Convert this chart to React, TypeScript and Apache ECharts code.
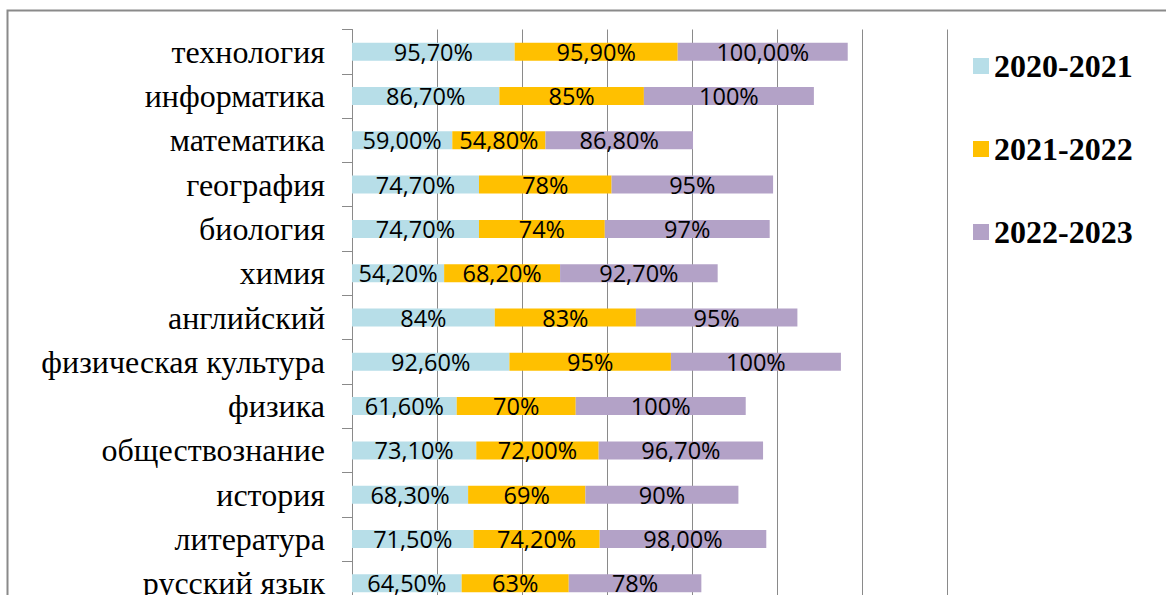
import React, { useEffect, useRef } from "react";
import * as echarts from "echarts";

const categories = [
  "технология",
  "информатика",
  "математика",
  "география",
  "биология",
  "химия",
  "английский",
  "физическая культура",
  "физика",
  "обществознание",
  "история",
  "литература",
  "русский язык",
];

const seriesNames = ["2020-2021", "2021-2022", "2022-2023"];

const values2020 = [95.7, 86.7, 59.0, 74.7, 74.7, 54.2, 84, 92.6, 61.6, 73.1, 68.3, 71.5, 64.5];
const values2021 = [95.9, 85, 54.8, 78, 74, 68.2, 83, 95, 70, 72.0, 69, 74.2, 63];
const values2022 = [100.0, 100, 86.8, 95, 97, 92.7, 95, 100, 100, 96.7, 90, 98.0, 78];

const labels2020 = ["95,70%", "86,70%", "59,00%", "74,70%", "74,70%", "54,20%", "84%", "92,60%", "61,60%", "73,10%", "68,30%", "71,50%", "64,50%"];
const labels2021 = ["95,90%", "85%", "54,80%", "78%", "74%", "68,20%", "83%", "95%", "70%", "72,00%", "69%", "74,20%", "63%"];
const labels2022 = ["100,00%", "100%", "86,80%", "95%", "97%", "92,70%", "95%", "100%", "100%", "96,70%", "90%", "98,00%", "78%"];

const colors = ["#b7dee8", "#ffc000", "#b3a2c7"];

export default function App() {
  const ref = useRef<HTMLDivElement>(null);

  useEffect(() => {
    if (!ref.current) return;
    const chart = echarts.init(ref.current, undefined, { renderer: "svg" });
    const valueSets = [values2020, values2021, values2022];
    const labelSets = [labels2020, labels2021, labels2022];
    const gray = "#8a8a8a";

    chart.setOption({
      animation: false,
      backgroundColor: "#ffffff",
      graphic: [
        {
          type: "rect",
          shape: { x: 7.5, y: 10.5, width: 1300, height: 800 },
          style: { fill: "none", stroke: gray, lineWidth: 2 },
          silent: true,
        },
      ],
      grid: {
        left: 352,
        right: 1166 - 947,
        top: 29.5,
        height: 576,
        containLabel: false,
      },
      legend: {
        orient: "vertical",
        left: 973,
        top: 50,
        padding: 0,
        itemWidth: 16,
        itemHeight: 16,
        itemGap: 51,
        icon: "rect",
        data: seriesNames,
        textStyle: {
          fontFamily: "Liberation Serif",
          fontWeight: "bold",
          fontSize: 32,
          lineHeight: 32,
          color: "#000",
        },
      },
      xAxis: {
        type: "value",
        min: 0,
        max: 350,
        interval: 50,
        axisLabel: { show: false },
        axisLine: { show: false },
        axisTick: { show: false },
        splitLine: { show: true, lineStyle: { color: gray, width: 1 } },
      },
      yAxis: {
        type: "category",
        inverse: true,
        data: categories,
        axisLine: { show: true, lineStyle: { color: gray, width: 1 } },
        axisTick: { show: true, length: 10, lineStyle: { color: gray, width: 1 } },
        axisLabel: {
          margin: 27,
          fontFamily: "Liberation Serif",
          fontSize: 32,
          color: "#000",
        },
      },
      series: seriesNames.map((name, i) => ({
        name,
        type: "bar",
        stack: "total",
        barWidth: 18,
        data: valueSets[i],
        itemStyle: { color: colors[i] },
        label: {
          show: true,
          position: "inside",
          fontFamily: "Open Sans",
          fontSize: 23.5,
          color: "#000",
          formatter: (p: any) => labelSets[i][p.dataIndex],
        },
      })),
    });

    return () => chart.dispose();
  }, []);

  return (
    <div
      style={{
        position: "fixed",
        left: 0,
        top: 0,
        width: 1166,
        height: 595,
        overflow: "hidden",
        background: "#fff",
      }}
    >
      <div ref={ref} style={{ width: 1166, height: 640 }} />
    </div>
  );
}
